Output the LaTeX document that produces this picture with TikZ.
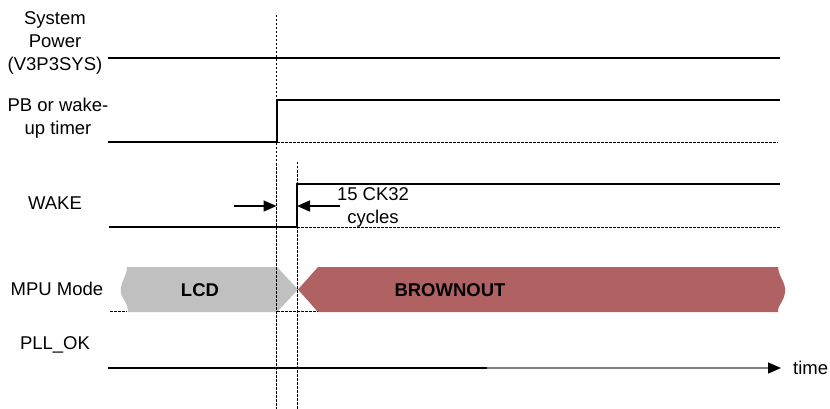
\documentclass[tikz,border=0pt]{standalone}
\usepackage{fontspec}
\setmainfont{Liberation Sans}
\usetikzlibrary{arrows.meta}
\definecolor{lcdgray}{HTML}{C0C0C0}
\definecolor{brownout}{HTML}{B06262}
\tikzset{
	signal/.style={line width=2pt},
	guide/.style={line width=0.8pt,dash pattern=on 2.5pt off 1.5pt},
	lbl/.style={font=\fontsize{18.5}{23}\selectfont,align=center,inner sep=0pt},
	gap/.style={line width=1.5pt,-{Triangle[length=13pt,width=11pt]}}
}
\begin{document}
\begin{tikzpicture}[x=1pt,y=-1pt]
	\useasboundingbox (0,0) rectangle (830,409);
	\coordinate (edge1) at (276.5,15);
	\coordinate (edge2) at (297,162);
	\coordinate (gapL) at (234,206);
	\coordinate (gapR) at (340,206);
	\coordinate (tend) at (781,368);
	\node[lbl] (sys) at (55,43) {System\\Power\\(V3P3SYS)};
	\node[lbl] (pb) at (58,118) {PB or wake-\\up timer};
	\node[lbl] (wake) at (55,203) {WAKE};
	\node[lbl] (mpu) at (57,289) {MPU Mode};
	\node[lbl] (pll) at (55,345) {PLL\_OK};
	\node[lbl,anchor=west] (time) at (793,368) {time};
	\node[lbl] (cyc) at (373,207) {15 CK32\\cycles};
	% mode bar
	\fill[lcdgray] (127,267) -- (277,267) -- (298,289.5) -- (277,312) -- (128,312) .. controls (128,300) and (119,298) .. (121,288) .. controls (122,280) and (127,275) .. (127,267);
	\fill[brownout] (298,289.5) -- (318,267) -- (778,267) .. controls (779,278) and (786,282) .. (785,292) .. controls (784,302) and (778,304) .. (778,312) -- (318,312) -- cycle;
	\node[lbl,font=\fontsize{18.5}{23}\selectfont\bfseries] (lcd) at (200,290) {LCD};
	\node[lbl,font=\fontsize{18.5}{23}\selectfont\bfseries] (brn) at (450,290) {BROWNOUT};
	% guides
	\draw[guide] (edge1) -- (276.5,409);
	\draw[guide] (edge2) -- (297,409);
	\draw[guide] (277,142) -- (778,142);
	\draw[guide] (297,227) -- (780,227);
	\draw[guide] (110,311.5) -- (127,311.5);
	\draw[guide] (277,311.5) -- (318,311.5);
	% signals
	\draw[signal] (108,58) -- (780,58);
	\draw[signal] (108,142) -- (277,142) -- (277,100) -- (780,100);
	\draw[signal] (109,227) -- (297,227) -- (297,184) -- (780,184);
	\draw[gap] (gapL) -- (edge1 |- gapL);
	\draw[gap] (gapR) -- (edge2 |- gapR);
	\draw[signal] (108,368) -- (487,368);
	\draw[line width=1.5pt,gray,-{Triangle[length=13pt,width=11pt,color=black]}] (487,368) -- (tend);
\end{tikzpicture}
\end{document}
